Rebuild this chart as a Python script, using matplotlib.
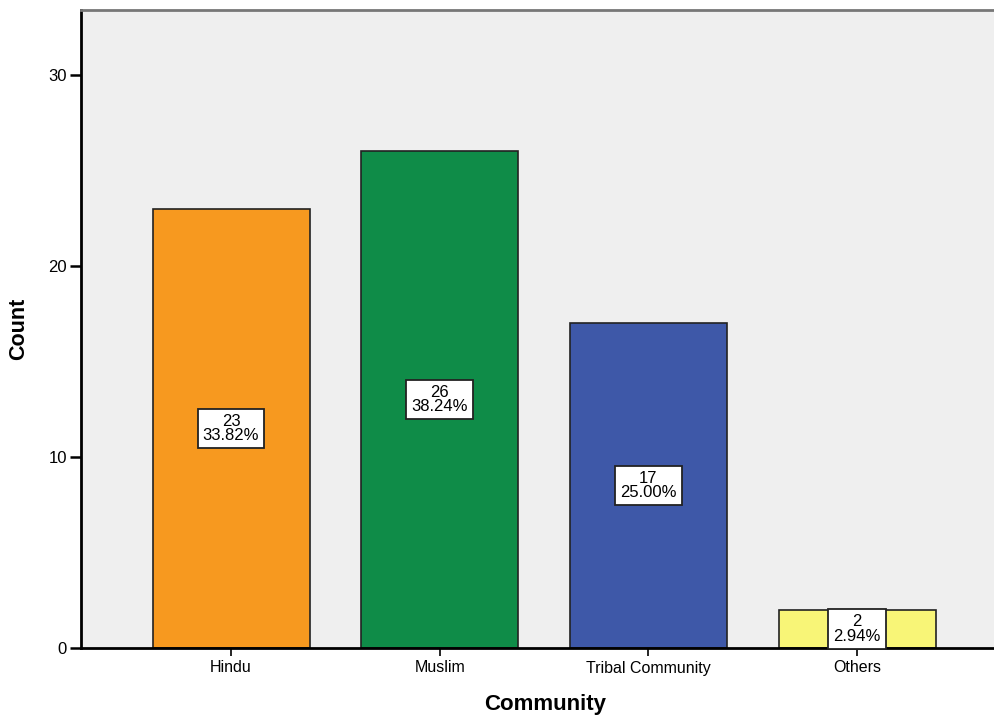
import matplotlib
matplotlib.use("Agg")
import matplotlib.pyplot as plt

categories = ["Hindu", "Muslim", "Tribal Community", "Others"]
counts = [23, 26, 17, 2]
percents = ["33.82%", "38.24%", "25.00%", "2.94%"]
colors = ["#f7991f", "#0f8c48", "#3e58a8", "#f8f577"]
yticks = [0, 10, 20, 30]

plt.rcParams['font.family'] = ['Liberation Sans', 'DejaVu Sans']

fig = plt.figure(figsize=(9.95, 7.16), dpi=100)
ax = fig.add_axes([81/995, 1-648/716, 1-81/995, (648-9.5)/716])
ax.set_facecolor("#efefef")

x = list(range(len(categories)))
ax.bar(x, counts, width=0.752, color=colors, edgecolor="#222222", linewidth=1.2, zorder=2)

for xi, c, p in zip(x, counts, percents):
    ax.text(xi, c/2, f"{c}\n{p}", ha="center", va="center", fontsize=12,
            linespacing=0.95, zorder=3,
            bbox=dict(boxstyle="square,pad=0.3", facecolor="white", edgecolor="#222222", linewidth=1.3))

ax.set_xlim(-0.719, 3.661)
ax.set_ylim(0, 33.43)
ax.set_xticks(x)
ax.set_xticklabels(categories, fontsize=11.5)
ax.set_yticks(yticks)
ax.set_yticklabels([str(t) for t in yticks], fontsize=12)
ax.tick_params(axis='y', length=8, width=1.8, pad=2)
ax.tick_params(axis='x', length=6, width=1.2, pad=3)

ax.spines['left'].set_linewidth(2)
ax.spines['bottom'].set_linewidth(2)
ax.spines['top'].set_color("#777777")
ax.spines['top'].set_linewidth(2)
ax.spines['right'].set_visible(False)

ax.set_ylabel("Count", fontsize=15.5, fontweight="bold", labelpad=14)
ax.set_xlabel("Community", fontsize=16, fontweight="bold", labelpad=13)
ax.xaxis.label.set_x(0.508)

fig.savefig("out.png", dpi=100)
